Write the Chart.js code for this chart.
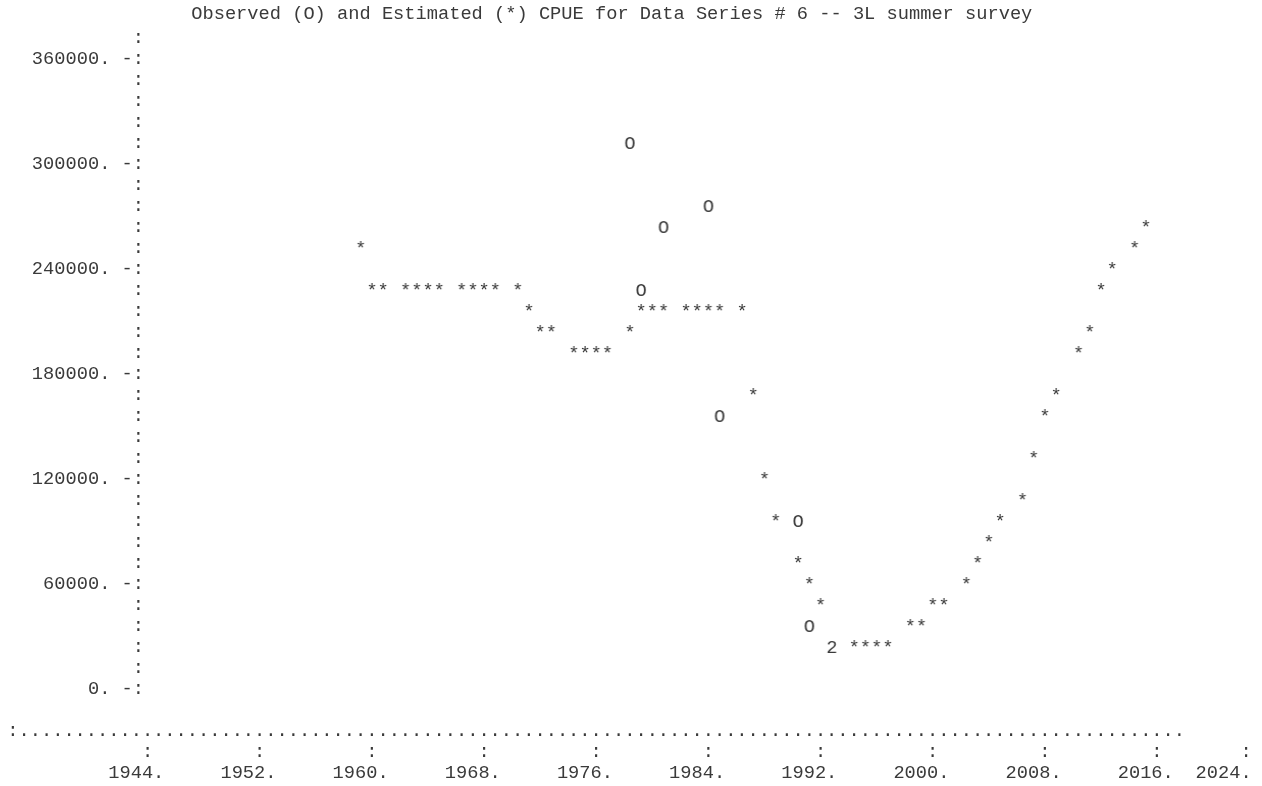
<!DOCTYPE html>
<html>
<head>
<meta charset="utf-8">
<script src="https://cdn.jsdelivr.net/npm/chart.js@4.4.1/dist/chart.umd.min.js"></script>
<style>
  html, body { margin: 0; padding: 0; background: #fff; }
</style>
</head>
<body>
<canvas id="cpue" width="1262" height="786"></canvas>
<script>
// printer-plot style CPUE chart: observed (O) vs estimated (*)
const titleText = 'Observed (O) and Estimated (*) CPUE for Data Series # 6 -- 3L summer survey';

const estYears = [1959, 1960, 1961, 1962, 1963, 1964, 1965, 1966, 1967, 1968,
    1969, 1970, 1971, 1972, 1973, 1974, 1975, 1976, 1977, 1978,
    1979, 1980, 1981, 1982, 1983, 1984, 1985, 1986, 1987, 1988,
    1989, 1990, 1991, 1992, 1993, 1994, 1995, 1996, 1997, 1998,
    1999, 2000, 2001, 2002, 2003, 2004, 2005, 2006, 2007, 2008,
    2009, 2010, 2011, 2012, 2013, 2014, 2015];
const estCpue = [252000, 228000, 228000, 228000, 228000, 228000, 228000, 228000, 228000, 228000,
    228000, 228000, 216000, 204000, 204000, 192000, 192000, 192000, 192000, 204000,
    216000, 216000, 216000, 216000, 216000, 216000, 216000, 216000, 168000, 120000,
    96000, 72000, 60000, 48000, 24000, 24000, 24000, 24000, 24000, 36000,
    36000, 48000, 48000, 60000, 72000, 84000, 96000, 108000, 132000, 156000,
    168000, 192000, 204000, 228000, 240000, 252000, 264000];

const obsYears = [1978, 1979, 1981, 1984, 1985, 1990, 1991, 1993];
const obsCpue = [312000, 228000, 264000, 276000, 156000, 96000, 36000, 24000];

const xTickYears = [1944, 1952, 1960, 1968, 1976, 1984, 1992, 2000, 2008, 2016, 2024];
const xTickLabels = ['1944.', '1952.', '1960.', '1968.', '1976.', '1984.', '1992.', '2000.', '2008.', '2016.', '2024.'];
const yTickValues = [0, 60000, 120000, 180000, 240000, 300000, 360000];
const yTickLabels = ['0.', '60000.', '120000.', '180000.', '240000.', '300000.', '360000.'];

const FONT = '"Liberation Mono", "Courier New", monospace';
const FSIZE = 18.7;
const INK = '#3a3a3a';
const ROW = 12000;          // one text line of the printer plot
const COLS_PER_YEAR = 1.25; // one character column = 0.8 year

// the printer plot puts each year in the nearest character column
function snapYear(yr) {
    return 1944 + Math.round((yr - 1944) * COLS_PER_YEAR) / COLS_PER_YEAR;
}
function cellKey(yr, v) {
    return Math.round((yr - 1944) * COLS_PER_YEAR) + ':' + Math.round(v / ROW);
}

function glyph(ch) {
    const c = document.createElement('canvas');
    c.width = 24; c.height = 24;
    const g = c.getContext('2d');
    g.font = FSIZE + 'px ' + FONT;
    g.fillStyle = INK;
    g.textAlign = 'center';
    g.textBaseline = 'alphabetic';
    const asc = g.measureText('O').actualBoundingBoxAscent;
    g.fillText(ch, 12, 12 + asc / 2);
    return c;
}
const starImg = glyph('*');
const ohImg = glyph('O');
const twoImg = glyph('2');

const estCells = new Set(estYears.map((yr, i) => cellKey(yr, estCpue[i])));
const obsCells = new Set(obsYears.map((yr, i) => cellKey(yr, obsCpue[i])));

const yRows = [];
for (let v = 0; v <= 372000; v += ROW) yRows.push(v);

const printerAxis = {
    id: 'printerAxis',
    afterDraw(chart) {
        const {ctx, chartArea, scales: {x, y}} = chart;
        const rowH = y.getPixelForValue(0) - y.getPixelForValue(ROW);
        const colW = (x.getPixelForValue(1952) - x.getPixelForValue(1944)) / 10;
        const x0 = x.getPixelForValue(1944);
        ctx.save();
        ctx.font = FSIZE + 'px ' + FONT;
        ctx.fillStyle = INK;
        ctx.textBaseline = 'middle';
        ctx.textAlign = 'center';
        const dotsY = chartArea.bottom + 2 * rowH;
        ctx.fillText(':', x0 - 12 * colW, dotsY);
        for (let c = -11; c <= 92; c++) ctx.fillText('.', x0 + c * colW, dotsY);
        xTickYears.forEach((yr, i) => {
            const px = Math.min(x.getPixelForValue(yr), chartArea.right);
            ctx.textAlign = 'center';
            ctx.fillText(':', px, chartArea.bottom + 3 * rowH);
            ctx.textAlign = 'right';
            ctx.fillText(xTickLabels[i], Math.min(px + 1.5 * colW, chartArea.right + 0.5 * colW), chartArea.bottom + 4 * rowH);
        });
        ctx.restore();
    }
};

new Chart(document.getElementById('cpue').getContext('2d'), {
    type: 'scatter',
    data: {
        datasets: [{
            label: 'Estimated',
            data: estYears.map((yr, i) => ({x: snapYear(yr), y: estCpue[i]})),
            pointStyle: starImg,
            pointRadius: c => obsCells.has(cellKey(estYears[c.dataIndex], estCpue[c.dataIndex])) ? 0 : 6
        }, {
            label: 'Observed',
            data: obsYears.map((yr, i) => ({x: snapYear(yr), y: obsCpue[i]})),
            pointStyle: c => estCells.has(cellKey(obsYears[c.dataIndex], obsCpue[c.dataIndex])) ? twoImg : ohImg,
            pointRadius: 6
        }]
    },
    options: {
        responsive: false,
        devicePixelRatio: 1,
        animation: false,
        events: [],
        layout: { padding: { left: 0, right: 16, top: 0, bottom: 97 } },
        plugins: {
            legend: { display: false },
            tooltip: { enabled: false },
            title: {
                display: true,
                text: titleText + '  ',
                color: INK,
                font: { family: FONT, size: FSIZE, weight: 'normal', lineHeight: 1.2 },
                padding: { top: 3, bottom: 12.56 }
            }
        },
        scales: {
            x: {
                type: 'linear',
                display: false,
                min: 1943.75,
                max: 2022.35
            },
            y: {
                min: 0,
                max: 372000,
                grid: { display: false, drawTicks: false },
                border: { display: false },
                afterBuildTicks: s => { s.ticks = yRows.map(v => ({value: v})); },
                afterFit: s => { s.width = 144; },
                ticks: {
                    autoSkip: false,
                    padding: 0,
                    color: INK,
                    font: { family: FONT, size: FSIZE, lineHeight: 1 },
                    callback: v => {
                        const k = yTickValues.indexOf(v);
                        return k >= 0 ? yTickLabels[k] + ' -:' : ':';
                    }
                }
            }
        }
    },
    plugins: [printerAxis]
});
</script>
</body>
</html>
